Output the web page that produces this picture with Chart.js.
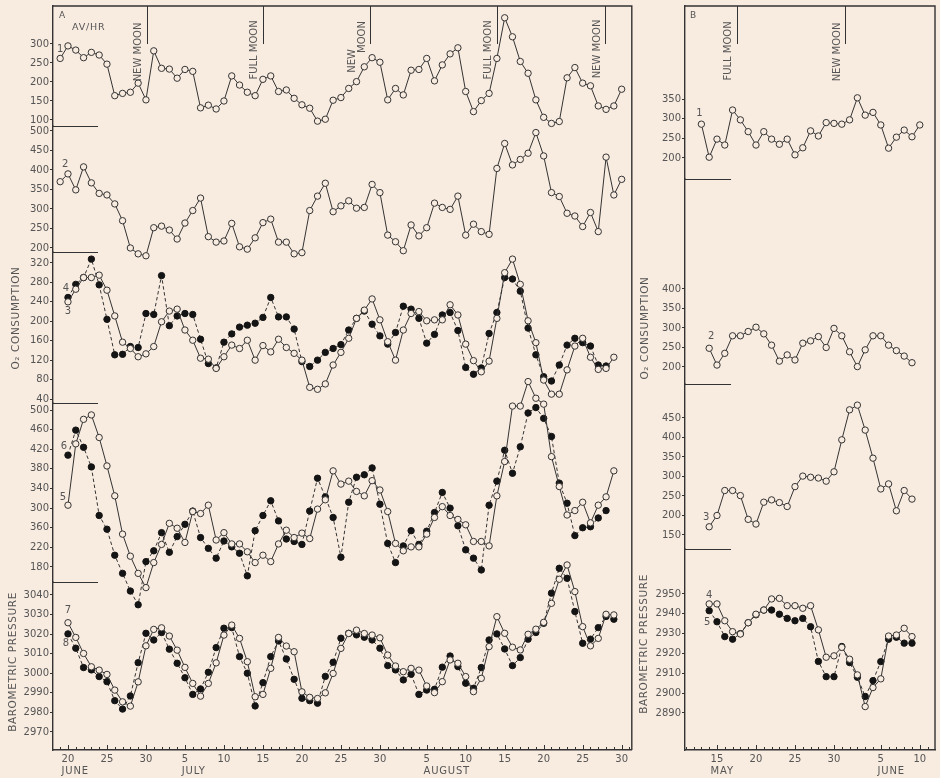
<!DOCTYPE html>
<html>
<head>
<meta charset="utf-8">
<title>Oxygen consumption, moon phase and barometric pressure</title>
<script src="https://cdn.jsdelivr.net/npm/chart.js@4.4.1/dist/chart.umd.min.js"></script>
<style>
  html, body { margin: 0; padding: 0; background: #f8ebe0; }
  #page { position: relative; width: 940px; height: 778px; overflow: hidden; background: #f8ebe0; }
  #page canvas { position: absolute; top: 0; }
</style>
</head>
<body>
<div id="page">
  <canvas id="summer" width="636" height="778" style="left:0"></canvas>
  <canvas id="spring" width="304" height="778" style="left:636px"></canvas>
</div>
<script>
// ---------- Panel A: summer record, day 0 = 20 June ----------
const A_TICK_DAYS   = [0, 5, 10, 15, 20, 25, 30, 35, 40, 46, 51, 56, 61, 66, 71];
const A_TICK_LABELS = ['20','25','30','5','10','15','20','25','30','5','10','15','20','25','30'];
const A_MONTHS      = ['JUNE', 'JULY', 'AUGUST'];
const A_MONTH_DAYS  = [0, 15, 46];
const A_MOON_DAYS   = [10.1, 25, 38.7, 55, 68.8];

// O2 consumption, animal 1 (AV/HR)
const S1_START = -1;
const S1 = [262,295,284,264,278,271,247,164,170,173,
            197,153,282,236,234,210,233,228,132,139,
            129,150,216,192,173,164,207,216,175,179,
            157,140,131,97,102,152,159,183,201,240,
            264,252,153,183,166,231,233,262,203,245,
            274,290,175,122,151,170,262,369,319,254,
            223,153,107,91,96,211,238,197,190,137,
            128,137,181];
// animal 2
const S2_START = -1;
const S2 = [370,390,349,408,367,340,336,313,270,200,
            185,180,252,256,246,223,264,296,328,229,
            215,218,263,203,197,226,265,274,215,215,
            185,188,296,333,366,293,308,321,302,304,
            363,342,233,216,193,259,231,252,315,304,
            299,333,233,261,242,235,404,468,413,427,
            443,496,436,342,332,289,282,255,291,242,
            433,336,376];
// animals 3 (open) and 4 (filled)
const S3_START = 0;
const S3 = [240,266,290,290,295,264,211,157,144,127,
            133,148,199,221,225,182,161,124,122,103,
            127,151,144,161,120,150,137,163,146,134,
            120,64,60,71,110,136,165,206,223,246,
            203,158,120,182,216,220,201,203,203,234,
            213,153,119,96,118,206,300,328,276,201,
            156,79,50,50,100,149,165,126,101,103,
            126];
const S4_START = 0;
const S4 = [249,276,290,328,275,204,131,132,148,146,
            216,214,294,191,211,216,214,163,113,104,
            157,174,188,192,196,208,249,209,209,184,
            117,107,120,136,144,152,182,206,221,194,
            170,153,177,231,225,206,155,173,213,218,
            181,105,91,104,175,218,290,287,262,186,
            131,86,77,110,151,165,156,149,110,108];
// animals 5 (open) and 6 (filled)
const S5_START = 0;
const S5 = [306,431,481,490,444,386,325,247,202,167,
            138,189,226,269,259,230,293,289,306,235,
            250,227,227,211,189,204,191,227,255,240,
            249,238,298,317,376,349,355,334,325,356,
            337,293,228,213,221,221,247,281,303,285,
            277,266,232,232,223,325,395,508,508,558,
            524,512,405,344,286,295,312,270,306,323,
            376];
const S6_START = 0;
const S6 = [408,459,424,384,285,257,204,167,131,103,
            191,213,250,210,242,267,294,240,218,198,
            233,221,208,162,254,285,315,274,237,232,
            226,294,361,323,281,200,312,363,368,382,
            308,228,189,223,254,226,253,291,332,300,
            264,215,198,174,306,355,418,371,425,494,
            505,483,446,351,310,244,260,262,280,295];
// barometric pressure, two stations (7 open, 8 filled)
const S7_START = 0;
const S7 = [3025.8,3018.3,3010.1,3003.3,3001.6,2999.4,2991.4,2985.4,2983.2,2995.6,
            3014.0,3022.4,3023.2,3019.0,3011.8,3003.0,2994.8,2988.3,2994.8,3005.3,
            3019.5,3024.6,3017.8,3005.9,2988.0,2989.2,3002.5,3018.3,3013.9,3011.0,
            2990.5,2987.7,2987.1,2990.0,2999.9,3012.7,3020.3,3022.0,3020.3,3019.5,
            3018.1,3009.3,3003.7,3000.8,3002.5,3001.6,2993.5,2990.1,2995.7,3006.8,
            3005.1,2998.3,2990.6,2997.4,3013.6,3028.9,3020.4,3013.3,3011.9,3019.9,
            3022.5,3026.0,3035.7,3048.0,3055.3,3041.7,3023.8,3014.0,3017.8,3030.1,
            3029.8];
const S8_START = 0;
const S8 = [3020.1,3012.8,3002.9,3001.7,2998.3,2995.7,2986.0,2981.7,2988.4,3005.4,
            3020.4,3017.0,3020.8,3012.3,3005.1,2997.7,2989.2,2992.0,3000.5,3013.1,
            3023.0,3023.3,3008.5,3000.0,2983.3,2995.2,3008.5,3016.5,3007.3,2996.9,
            2987.2,2986.0,2984.7,2998.4,3005.6,3017.9,3020.4,3019.6,3018.4,3017.0,
            3012.8,3003.9,3001.7,2996.6,2999.5,2989.2,2991.4,2991.8,3003.1,3008.8,
            3003.4,2994.9,2992.3,3002.9,3017.0,3020.1,3012.4,3003.9,3008.0,3017.4,
            3020.8,3025.5,3040.9,3053.6,3048.5,3031.5,3015.3,3017.4,3023.3,3029.0,
            3027.6];

// y tick values of the five stacked panels (top to bottom)
const A1_TICKS  = [100, 150, 200, 250, 300];
const A2_TICKS  = [200, 250, 300, 350, 400, 450, 500];
const A34_TICKS = [40, 80, 120, 160, 200, 240, 280, 320];
const A56_TICKS = [180, 220, 260, 300, 340, 380, 420, 460, 500];
const A56_TICK_LABELS = ['180', '220', '360', '300', '340', '380', '420', '460', '500'];
const A78_TICKS = [2970, 2980, 2990, 3000, 3010, 3020, 3030, 3040];

// ---------- Panel B: spring record, day 0 = 15 May ----------
const B_TICK_DAYS   = [0, 5, 10, 15, 21, 26];
const B_TICK_LABELS = ['15', '20', '25', '30', '5', '10'];
const B_MONTHS      = ['MAY', 'JUNE'];
const B_MONTH_DAYS  = [0, 21];
const B_MOON_DAYS   = [2.6, 16.4];

const B1_START = -2;
const B1 = [286,202,248,233,322,297,267,233,267,248,235,248,208,226,269,
            256,290,288,286,297,353,309,316,284,225,253,271,254,284];
const B2_START = -1;
const B2 = [248,205,235,280,280,291,302,285,256,215,231,218,261,267,278,
            250,299,280,239,201,244,280,280,256,242,228,211];
const B3_START = -1;
const B3 = [171,200,264,264,251,190,178,234,240,233,223,274,301,298,296,
            288,312,394,471,483,419,347,268,281,212,264,242];
const B4_START = -1;
const B4 = [2945,2945,2936.5,2931,2929.8,2935.5,2939.8,2941.9,2947.5,2947.8,
            2944.1,2944.1,2942.8,2944.1,2931.9,2918.1,2918.8,2923.1,2917.1,2909.2,
            2893.2,2902.8,2907.2,2928.8,2929.3,2932.7,2928.5];
const B5_START = -1;
const B5 = [2941.6,2936,2928.5,2927.2,2930,2935.5,2939.5,2941.9,2941.9,2939.8,
            2937.7,2936.5,2937.7,2933.5,2916,2908.3,2908.3,2923.5,2915.4,2908,
            2898.3,2906.3,2915.9,2927.2,2928.2,2925.2,2925.2];

const B1_TICKS = [200, 250, 300, 350];
const B2_TICKS = [200, 250, 300, 350, 400];
const B3_TICKS = [150, 200, 250, 300, 350, 400, 450];
const B4_TICKS = [2890, 2900, 2910, 2920, 2930, 2940, 2950];

// ---------- drawing helpers ----------
const BG   = '#f8ebe0';
const INK  = '#333333';
const TXT  = '#555555';
const FONT = '"DejaVu Sans", "Liberation Sans", sans-serif';

const points = (start, vals) => vals.map((v, i) => ({ x: start + i, y: v }));

// lines may run past their own panel into the neighbouring one, so no clipping
function openLine(start, vals, axis) {
  return {
    data: points(start, vals), yAxisID: axis, xAxisID: 'x', clip: false,
    borderColor: INK, borderWidth: 1, tension: 0, fill: false,
    pointRadius: 3.2, pointHoverRadius: 3.2, pointBorderWidth: 1,
    pointBackgroundColor: BG, pointBorderColor: INK
  };
}
function filledLine(start, vals, axis) {
  return {
    data: points(start, vals), yAxisID: axis, xAxisID: 'x', clip: false,
    borderColor: INK, borderWidth: 1, borderDash: [3.5, 2.5], tension: 0, fill: false,
    pointRadius: 3.2, pointHoverRadius: 3.2, pointBorderWidth: 1,
    pointBackgroundColor: '#141414', pointBorderColor: '#141414'
  };
}

function yScale(min, max, weight, ticks, labels, width) {
  return {
    type: 'linear', position: 'left', stack: 'panels', stackWeight: weight, min, max,
    border: { display: true, color: INK, width: 1.4 },
    grid: { drawOnChartArea: false, drawTicks: true, tickLength: 3, color: INK, lineWidth: 1 },
    ticks: {
      color: TXT, font: { family: FONT, size: 10, lineHeight: 1 }, padding: 1, autoSkip: false,
      callback: v => { const i = ticks.indexOf(v); return i < 0 ? '' : (labels ? labels[i] : String(v)); }
    },
    afterBuildTicks: s => { s.ticks = ticks.map(v => ({ value: v })); },
    afterFit: s => { s.width = width; }
  };
}
function xScale(min, max, tickDays, tickLabels) {
  return {
    type: 'linear', position: 'bottom', min, max,
    border: { display: true, color: INK, width: 1.4 },
    grid: { display: true, drawOnChartArea: false, drawTicks: false },
    ticks: {
      color: TXT, font: { family: FONT, size: 10, lineHeight: 1 }, padding: 4,
      autoSkip: false, maxRotation: 0,
      callback: v => { const i = tickDays.indexOf(v); return i < 0 ? '' : tickLabels[i]; }
    },
    afterBuildTicks: s => {
      const t = [];
      for (let d = Math.ceil(min); d <= Math.floor(max); d++) t.push({ value: d });
      s.ticks = t;
    },
    afterFit: s => { s.height = 28; }
  };
}

function vtext(ctx, txt, x, y) {
  ctx.save();
  ctx.translate(x, y);
  ctx.rotate(-Math.PI / 2);
  ctx.textAlign = 'center';
  ctx.textBaseline = 'middle';
  ctx.fillText(txt, 0, 0);
  ctx.restore();
}

// frame, day ticks, panel rules, moon phases, month names, series numbers, titles
function makeDecor(o) {
  return {
    id: 'decor',
    afterDatasetsDraw(chart) {
      const { ctx, chartArea: ca, scales } = chart;
      const xs = scales.x;
      ctx.save();
      ctx.strokeStyle = INK;
      ctx.fillStyle = TXT;

      ctx.lineWidth = 1.4;
      ctx.beginPath();
      ctx.moveTo(ca.left, ca.top);
      ctx.lineTo(ca.right, ca.top);
      ctx.lineTo(ca.right, ca.bottom);
      ctx.stroke();

      ctx.lineWidth = 1;
      for (let d = Math.ceil(xs.min); d <= xs.max; d++) {
        const px = Math.round(xs.getPixelForValue(d)) + 0.5;
        const len = o.tickDays.includes(d) ? 5 : 3;
        ctx.beginPath();
        ctx.moveTo(px, ca.bottom);
        ctx.lineTo(px, ca.bottom - len);
        ctx.stroke();
      }

      for (const id of o.panels) {
        const y = Math.round(scales[id].bottom) + 0.5;
        ctx.beginPath();
        ctx.moveTo(ca.left, y);
        ctx.lineTo(ca.left + o.ruleLen, y);
        ctx.stroke();
      }

      ctx.font = `10px ${FONT}`;
      o.moonDays.forEach((d, i) => {
        const px = Math.round(xs.getPixelForValue(d)) + 0.5;
        ctx.beginPath();
        ctx.moveTo(px, ca.top);
        ctx.lineTo(px, ca.top + 38);
        ctx.stroke();
        for (const [dx, cy, txt] of o.moonText[i]) vtext(ctx, txt, px + dx, cy);
      });

      ctx.textAlign = 'left';
      ctx.textBaseline = 'middle';
      o.months.forEach((name, i) => {
        const d = o.monthDays[i];
        const lab = o.tickLabels[o.tickDays.indexOf(d)];
        ctx.letterSpacing = '0px';
        const w = ctx.measureText(lab).width;
        ctx.letterSpacing = '0.8px';
        ctx.fillText(name, xs.getPixelForValue(d) - w / 2, ca.bottom + 21);
      });
      ctx.letterSpacing = '0px';

      ctx.textAlign = 'center';
      for (const [txt, ds, dx, dy] of o.tags) {
        const p = chart.getDatasetMeta(ds).data[0];
        ctx.fillText(txt, p.x + dx, p.y + dy);
      }

      ctx.font = `10.5px ${FONT}`;
      ctx.letterSpacing = '0.6px';
      for (const [txt, x, cy] of o.titles) vtext(ctx, txt, x, cy);

      for (const [txt, x, y, size, spacing] of o.texts) {
        ctx.font = `${size}px ${FONT}`;
        ctx.letterSpacing = spacing + 'px';
        ctx.textAlign = 'left';
        ctx.fillText(txt, x, y);
      }
      ctx.restore();
    }
  };
}

const common = {
  responsive: false,
  animation: false,
  devicePixelRatio: 1,
  events: [],
  plugins: { legend: { display: false }, tooltip: { enabled: false }, title: { display: false } }
};

// ---------- Panel A chart ----------
new Chart(document.getElementById('summer'), {
  type: 'line',
  data: {
    datasets: [
      openLine(S1_START, S1, 'yA'),
      openLine(S2_START, S2, 'yB'),
      openLine(S3_START, S3, 'yC'),
      filledLine(S4_START, S4, 'yC'),
      openLine(S5_START, S5, 'yD'),
      filledLine(S6_START, S6, 'yD'),
      openLine(S7_START, S7, 'yE'),
      filledLine(S8_START, S8, 'yE')
    ]
  },
  options: Object.assign({}, common, {
    layout: { padding: { left: 0, top: 6, right: 4, bottom: 0 } },
    scales: {
      x:  xScale(-1.92, 72.3, A_TICK_DAYS, A_TICK_LABELS),
      yE: yScale(2960.8, 3046.6, 168, A78_TICKS, null, 53),
      yD: yScale(149.4, 514.3, 179, A56_TICKS, A56_TICK_LABELS, 53),
      yC: yScale(31.8, 342.6, 151, A34_TICKS, null, 53),
      yB: yScale(189.7, 512.8, 126, A2_TICKS, null, 53),
      yA: yScale(84.2, 400, 120, A1_TICKS, null, 53)
    }
  }),
  plugins: [makeDecor({
    tickDays: A_TICK_DAYS, tickLabels: A_TICK_LABELS,
    months: A_MONTHS, monthDays: A_MONTH_DAYS,
    moonDays: A_MOON_DAYS,
    moonText: [
      [[-9, 52, 'NEW MOON']],
      [[-9, 50, 'FULL MOON']],
      [[-18, 61, 'NEW'], [-8, 37, 'MOON']],
      [[-9, 50, 'FULL MOON']],
      [[-8, 49, 'NEW MOON']]
    ],
    panels: ['yA', 'yB', 'yC', 'yD'], ruleLen: 45,
    tags: [['1', 0, 0, -9], ['2', 1, 5, -17], ['3', 2, 0, 10], ['4', 3, -2, -9],
           ['5', 4, -5, -8], ['6', 5, -4, -9], ['7', 6, 0, -12], ['8', 7, -2, 10]],
    titles: [['O\u2082 CONSUMPTION', 16, 318], ['BAROMETRIC PRESSURE', 13, 662]],
    texts: [['A', 59, 16, 9, 0], ['AV/HR', 72, 28, 9.5, 0.8]]
  })]
});

// ---------- Panel B chart ----------
new Chart(document.getElementById('spring'), {
  type: 'line',
  data: {
    datasets: [
      openLine(B1_START, B1, 'b1'),
      openLine(B2_START, B2, 'b2'),
      openLine(B3_START, B3, 'b3'),
      openLine(B4_START, B4, 'b4'),
      filledLine(B5_START, B5, 'b4')
    ]
  },
  options: Object.assign({}, common, {
    layout: { padding: { left: 0, top: 6, right: 5, bottom: 0 } },
    scales: {
      x:  xScale(-4.1, 27.95, B_TICK_DAYS, B_TICK_LABELS),
      b4: yScale(2871.3, 2972.7, 201, B4_TICKS, null, 49),
      b3: yScale(114, 537.2, 165, B3_TICKS, null, 49),
      b2: yScale(156.4, 682, 205, B2_TICKS, null, 49),
      b1: yScale(146.6, 586.5, 173, B1_TICKS, null, 49)
    }
  }),
  plugins: [makeDecor({
    tickDays: B_TICK_DAYS, tickLabels: B_TICK_LABELS,
    months: B_MONTHS, monthDays: B_MONTH_DAYS,
    moonDays: B_MOON_DAYS,
    moonText: [[[-9, 51, 'FULL MOON']], [[-8, 52, 'NEW MOON']]],
    panels: ['b1', 'b2', 'b3'], ruleLen: 46,
    tags: [['1', 0, -2, -11], ['2', 1, 2, -12], ['3', 2, -3, -9], ['4', 3, 0, -9], ['5', 4, -2, 12]],
    titles: [['O\u2082 CONSUMPTION', 9, 328], ['BAROMETRIC PRESSURE', 8, 644]],
    texts: [['B', 54, 16, 9, 0]]
  })]
});
</script>
</body>
</html>
